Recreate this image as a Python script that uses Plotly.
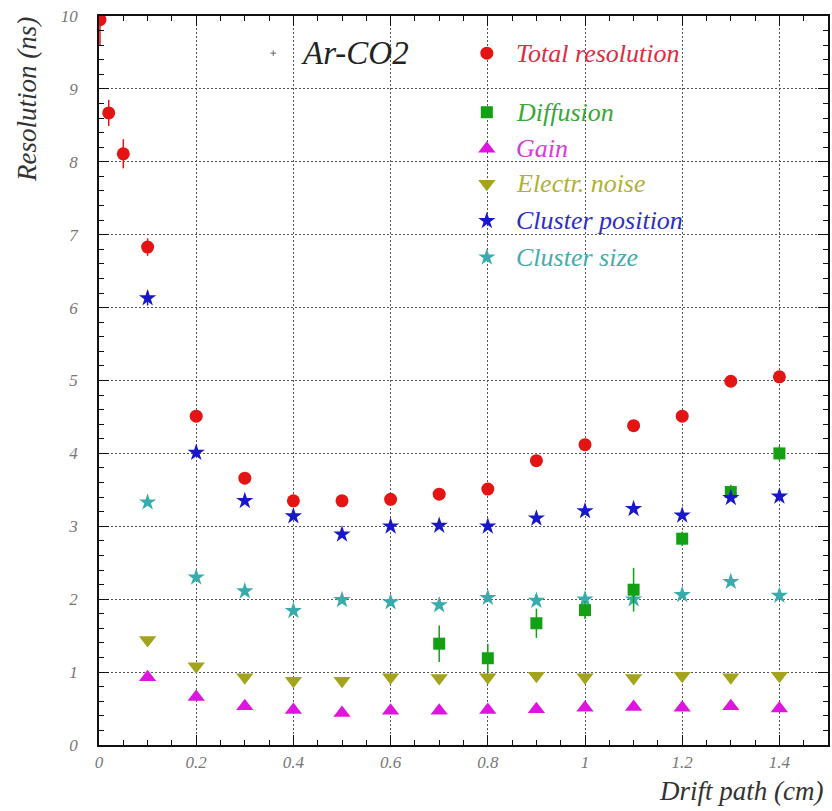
import plotly.graph_objects as go

# ---- measured resolution contributions vs drift path (Ar-CO2) ----
drift_total = [0.002, 0.02, 0.05, 0.1, 0.2, 0.3, 0.4, 0.5, 0.6, 0.7, 0.8, 0.9, 1.0, 1.1, 1.2, 1.3, 1.4]
total_res = [9.95, 8.67, 8.11, 6.83, 4.51, 3.66, 3.35, 3.35, 3.37, 3.44, 3.51, 3.90, 4.12, 4.38, 4.51, 4.99, 5.05]
total_err = [0.35, 0.18, 0.20, 0.12, 0.05, 0.05, 0.04, 0.04, 0.04, 0.04, 0.04, 0.05, 0.05, 0.05, 0.05, 0.05, 0.05]

drift = [0.1, 0.2, 0.3, 0.4, 0.5, 0.6, 0.7, 0.8, 0.9, 1.0, 1.1, 1.2, 1.3, 1.4]
gain = [0.93, 0.66, 0.53, 0.48, 0.44, 0.47, 0.47, 0.48, 0.49, 0.51, 0.52, 0.51, 0.53, 0.50]
noise = [1.44, 1.08, 0.93, 0.88, 0.88, 0.93, 0.92, 0.93, 0.95, 0.93, 0.92, 0.95, 0.93, 0.95]
cluster_pos = [6.13, 4.01, 3.35, 3.14, 2.89, 3.00, 3.01, 3.00, 3.11, 3.21, 3.24, 3.15, 3.39, 3.41]
cluster_pos_err = [0.10, 0.05, 0.03, 0.03, 0.03, 0.03, 0.03, 0.03, 0.03, 0.03, 0.03, 0.03, 0.03, 0.03]
cluster_size = [3.33, 2.30, 2.11, 1.84, 1.99, 1.96, 1.92, 2.02, 1.98, 2.00, 2.00, 2.06, 2.24, 2.05]

drift_diff = [0.7, 0.8, 0.9, 1.0, 1.1, 1.2, 1.3, 1.4]
diffusion = [1.39, 1.19, 1.67, 1.85, 2.13, 2.83, 3.47, 4.00]
diffusion_err = [0.25, 0.20, 0.20, 0.12, 0.30, 0.10, 0.10, 0.10]

x_ticks = [0, 0.2, 0.4, 0.6, 0.8, 1, 1.2, 1.4]
x_tick_labels = ["0", "0.2", "0.4", "0.6", "0.8", "1", "1.2", "1.4"]
y_ticks = list(range(0, 11))
y_tick_labels = [str(v) for v in y_ticks]

legend_names = ["Total resolution", "Diffusion", "Gain", "Electr. noise", "Cluster position", "Cluster size"]

# ---- styling ----
RED, GREEN, MAGENTA = "#e41414", "#14a014", "#e014e0"
OLIVE, BLUE, TEAL = "#a3a31c", "#1818c8", "#38acac"
colors = [RED, GREEN, MAGENTA, OLIVE, BLUE, TEAL]
text_colors = ["#dc2c44", "#36a836", "#d83cd8", "#b0b03a", "#2e2ec4", "#44acac"]
symbols = ["circle", "square", "triangle-up", "triangle-down", "star", "star"]
sizes = [13, 12, 15, 15, 13, 13]
SERIF = '"Liberation Serif", "Times New Roman", Times, serif'

fig = go.Figure()


def add_series(x, y, idx, err=None):
    kw = {}
    if err is not None:
        kw["error_y"] = dict(type="data", array=err, visible=True,
                             color=colors[idx], thickness=1.5, width=0)
    fig.add_trace(go.Scatter(
        x=x, y=y, mode="markers", name=legend_names[idx], showlegend=False,
        marker=dict(symbol=symbols[idx], size=sizes[idx], color=colors[idx],
                    opacity=1, line=dict(width=0)),
        cliponaxis=True, **kw))


add_series(drift, cluster_size, 5)
add_series(drift, gain, 2)
add_series(drift, noise, 3)
add_series(drift_diff, diffusion, 1, diffusion_err)
add_series(drift, cluster_pos, 4, cluster_pos_err)
add_series(drift_total, total_res, 0, total_err)

# ---- hand-placed legend (paper coordinates of the plotting area) ----
leg_key_x = 0.532
leg_text_x = 0.569
leg_rows = [0.949, 0.868, 0.818, 0.770, 0.719, 0.669]

fig.add_trace(go.Scatter(
    x=[leg_key_x] * len(leg_rows), y=leg_rows, xaxis="x2", yaxis="y2",
    mode="markers", showlegend=False, hoverinfo="skip",
    marker=dict(symbol=symbols, size=sizes, color=colors, opacity=1,
                line=dict(width=0))))
# small marker in front of the gas label
fig.add_trace(go.Scatter(
    x=[0.239], y=[0.949], xaxis="x2", yaxis="y2", mode="markers",
    showlegend=False, hoverinfo="skip",
    marker=dict(symbol="cross-thin", size=4, line=dict(width=1, color="#666"))))

annotations = []
for name, col, yy in zip(legend_names, text_colors, leg_rows):
    annotations.append(dict(
        x=leg_text_x, y=yy, xref="paper", yref="paper", text=name,
        showarrow=False, xanchor="left", yanchor="middle",
        font=dict(family=SERIF, size=26, color=col, style="italic")))

annotations.append(dict(
    x=0.275, y=0.949, xref="paper", yref="paper", text="Ar-CO2",
    showarrow=False, xanchor="left", yanchor="middle",
    font=dict(family=SERIF, size=33, color="#222", style="italic")))
annotations.append(dict(
    x=-0.0985, y=0.885, xref="paper", yref="paper", text="Resolution (ns)",
    showarrow=False, textangle=-90, xanchor="center", yanchor="middle",
    font=dict(family=SERIF, size=27, color="#333", style="italic")))
annotations.append(dict(
    x=0.996, y=-0.0630, xref="paper", yref="paper", text="Drift path (cm)",
    showarrow=False, xanchor="right", yanchor="middle",
    font=dict(family=SERIF, size=27, color="#333", style="italic")))

grid = dict(showgrid=True, gridcolor="#555", gridwidth=1, griddash="2px,2px")
axis_common = dict(
    showline=True, linecolor="#111", linewidth=1.5, mirror="allticks",
    ticks="inside", ticklen=10, tickwidth=1.2, tickcolor="#111",
    zeroline=False,
    tickfont=dict(family=SERIF, size=17, color="#777", style="italic"),
    **grid)

fig.update_layout(
    width=832, height=811,
    margin=dict(l=99, r=2, t=16, b=66),
    paper_bgcolor="white", plot_bgcolor="white",
    xaxis=dict(range=[0, 1.5], tickvals=x_ticks, ticktext=x_tick_labels,
               minor=dict(dtick=0.05, tick0=0, ticks="inside", ticklen=5,
                          tickcolor="#111", showgrid=False),
               ticklabelstandoff=1, **axis_common),
    yaxis=dict(range=[0, 10], tickvals=y_ticks, ticktext=y_tick_labels,
               minor=dict(dtick=0.2, tick0=0, ticks="inside", ticklen=5,
                          tickcolor="#111", showgrid=False),
               ticklabelstandoff=16, **axis_common),
    xaxis2=dict(range=[0, 1], overlaying="x", visible=False, domain=[0, 1]),
    yaxis2=dict(range=[0, 1], overlaying="y", visible=False, domain=[0, 1]),
    annotations=annotations,
    showlegend=False,
)

fig.write_html("out.html")
